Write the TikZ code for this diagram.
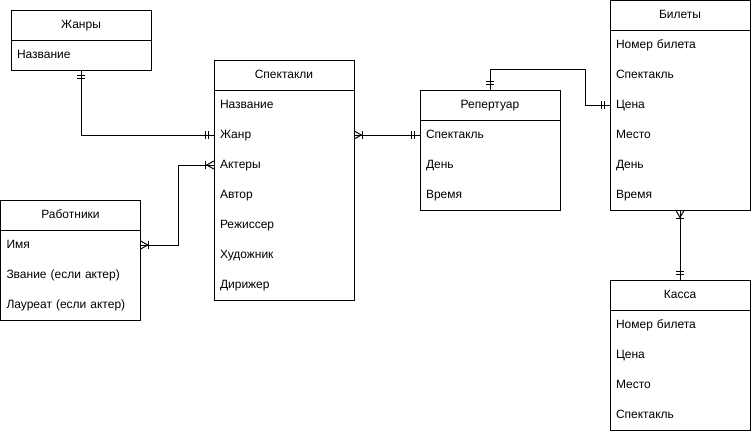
\documentclass[tikz,border=0pt]{standalone}
\usepackage{fontspec}
\setmainfont{Liberation Sans}
\usetikzlibrary{decorations.markings}
\begin{document}
\begin{tikzpicture}[x=1pt,y=-1pt,
  txt/.style={font=\fontsize{12}{14}\selectfont, text=black},
  hdr/.style={draw, line width=1pt, minimum width=140pt, minimum height=30pt, inner sep=0pt, text height=9pt, text depth=3pt, txt},
  bodybox/.style={draw, line width=1pt, minimum width=140pt, inner sep=0pt},
  fld/.style={text width=128pt, inner xsep=6pt, inner ysep=0pt, minimum height=30pt, text height=9pt, text depth=3pt, align=left, txt},
  conn/.style={line width=1pt},
  one start/.style={postaction={decorate,decoration={markings,
    mark=at position 5pt with {\draw[line width=1pt] (0,-4pt)--(0,4pt);},
    mark=at position 8pt with {\draw[line width=1pt] (0,-4pt)--(0,4pt);}}}},
  one end/.style={postaction={decorate,decoration={markings,
    mark=at position -8pt with {\draw[line width=1pt] (0,-4pt)--(0,4pt);},
    mark=at position -5pt with {\draw[line width=1pt] (0,-4pt)--(0,4pt);}}}},
  many start/.style={postaction={decorate,decoration={markings,
    mark=at position 7pt with {\draw[line width=1pt] (-7pt,4pt)--(0,0)--(-7pt,-4pt); \draw[line width=1pt] (1pt,-4pt)--(1pt,4pt);}}}},
  many end/.style={postaction={decorate,decoration={markings,
    mark=at position -7pt with {\draw[line width=1pt] (7pt,4pt)--(0,0)--(7pt,-4pt); \draw[line width=1pt] (-1pt,-4pt)--(-1pt,4pt);}}}}
]
\useasboundingbox (0,0) rectangle (751,431);

% Жанры
\node[hdr] (zh) at (81,25) {Жанры};
\node[bodybox, minimum height=30pt] (zhb) at (81,55) {};
\node[fld] (zh1) at (81,55) {Название};

% Спектакли
\node[hdr] (sp) at (284,75) {Спектакли};
\node[bodybox, minimum height=210pt] (spb) at (284,195) {};
\node[fld] (sp1) at (284,105) {Название};
\node[fld] (sp2) at (284,135) {Жанр};
\node[fld] (sp3) at (284,165) {Актеры};
\node[fld] (sp4) at (284,195) {Автор};
\node[fld] (sp5) at (284,225) {Режиссер};
\node[fld] (sp6) at (284,255) {Художник};
\node[fld] (sp7) at (284,285) {Дирижер};

% Репертуар
\node[hdr] (rep) at (490,105) {Репертуар};
\node[bodybox, minimum height=90pt] (repb) at (490,165) {};
\node[fld] (rep1) at (490,135) {Спектакль};
\node[fld] (rep2) at (490,165) {День};
\node[fld] (rep3) at (490,195) {Время};

% Билеты
\node[hdr] (bil) at (680,15.5) {Билеты};
\node[bodybox, minimum height=180pt] (bilb) at (680,120) {};
\node[fld] (bil1) at (680,45) {Номер билета};
\node[fld] (bil2) at (680,75) {Спектакль};
\node[fld] (bil3) at (680,105) {Цена};
\node[fld] (bil4) at (680,135) {Место};
\node[fld] (bil5) at (680,165) {День};
\node[fld] (bil6) at (680,195) {Время};

% Работники
\node[hdr] (rab) at (70.5,215) {Работники};
\node[bodybox, minimum height=90pt] (rabb) at (70.5,275) {};
\node[fld] (rab1) at (70.5,245) {Имя};
\node[fld] (rab2) at (70.5,275) {Звание (если актер)};
\node[fld] (rab3) at (70.5,305) {Лауреат (если актер)};

% Касса
\node[hdr] (kas) at (680,295) {Касса};
\node[bodybox, minimum height=120pt] (kasb) at (680,370) {};
\node[fld] (kas1) at (680,325) {Номер билета};
\node[fld] (kas2) at (680,355) {Цена};
\node[fld] (kas3) at (680,385) {Место};
\node[fld] (kas4) at (680,415) {Спектакль};

% Connectors
\draw[conn, one start, one end] (zhb.south) |- (sp2.west);
\draw[conn, many start, many end] (rab1.east) -- ([xshift=38pt]rab1.east) |- (sp3.west);
\draw[conn, many start, one end] (sp2.east) -- (rep1.west);
\draw[conn, one start, one end] (rep.north) -- ([yshift=20pt]rep.north) -| ([xshift=-24pt]bil3.west) -- (bil3.west);
\draw[conn, many start, one end] (bilb.south) -- (kas.north);
\end{tikzpicture}
\end{document}
